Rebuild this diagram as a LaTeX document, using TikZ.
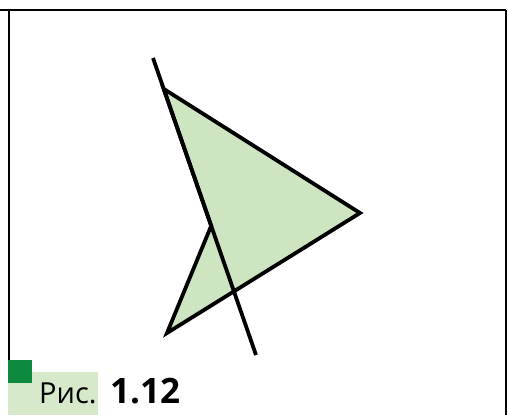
\documentclass[tikz,border=0pt]{standalone}
\usepackage{fontspec}
\setmainfont{Open Sans}
\usetikzlibrary{positioning,calc}
\definecolor{leaf}{HTML}{CDE5C1}
\definecolor{sqgreen}{HTML}{0E8A3F}
\definecolor{capbg}{HTML}{D6E9CA}
\tikzset{
  frm/.style={line width=1.5pt,draw=black},
  shp/.style={fill=leaf,draw=black,line width=3.8pt},
  ln/.style={draw=black,line width=3.8pt},
}
\begin{document}
\begin{tikzpicture}[x=1pt,y=-1pt]
\useasboundingbox (0,0) rectangle (508,415);
% caption marks
\fill[capbg] (8,372) rectangle (98,415);
\fill[sqgreen] (8,360) rectangle (32,383);
% frame
\draw[frm] (0,10) -- (506,10);
\draw[frm] (9,10) -- (9,360);
\draw[frm] (506,10) -- (506,415);
% the line and the figure
\coordinate (lt) at (153,58);
\coordinate (lb) at (256,355);
\coordinate (top) at ($(lt)!0.104!(lb)$);
\coordinate (inn) at ($(lt)!0.565!(lb)$);
\coordinate (rgt) at (360,213);
\coordinate (bl) at (167,333);
\filldraw[shp] (top) -- (rgt) -- (bl) -- (inn) -- cycle;
\draw[ln] (lt) -- (lb);
\node[anchor=base west,inner sep=0,font=\fontsize{29}{31}\selectfont] (cap) at (39,403) {Рис.};
\node[anchor=base west,inner sep=0,font=\fontsize{35}{37}\selectfont\bfseries] (num) at (110,403) {1.12};
\end{tikzpicture}
\end{document}
